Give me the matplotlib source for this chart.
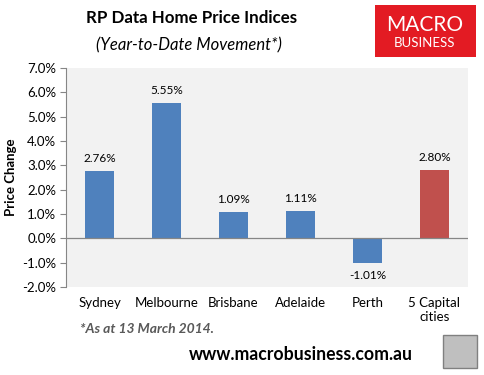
import numpy as np
import matplotlib.pyplot as plt
from matplotlib.patches import Rectangle

# data
cities = ["Sydney", "Melbourne", "Brisbane", "Adelaide", "Perth", "5 Capital\ncities"]
changes = [2.76, 5.55, 1.09, 1.11, -1.01, 2.80]
bar_colors = ["#4f81bd"] * 5 + ["#c0504d"]
yticks = np.arange(-2, 8, 1)

W, H = 485, 375
plt.rcParams['font.family'] = ['Lato', 'DejaVu Sans']
fig = plt.figure(figsize=(W / 100, H / 100), dpi=100)

# plot area in pixels: x 66..468, y 68..287
ax = fig.add_axes([66 / W, 1 - 287 / H, (468 - 66) / W, (287 - 68) / H])
ax.set_facecolor("#f2f2f2")
x = np.arange(len(cities))
ax.bar(x, changes, width=0.42, color=bar_colors, zorder=2)
ax.axhline(0, color="#868686", lw=0.9, zorder=3)
ax.set_xlim(-0.5, len(cities) - 0.5)
ax.set_ylim(-2, 7)
ax.set_yticks(yticks)
ax.set_yticklabels([f"{v:.1f}%" for v in yticks], fontsize=9.5)
ax.set_xticks(x)
ax.set_xticklabels(cities, fontsize=9.5, linespacing=1.2)
ax.tick_params(axis="x", length=0, pad=7)
ax.tick_params(axis="y", length=4, color="#868686", width=0.8, pad=3)
for s in ["top", "right", "bottom"]:
    ax.spines[s].set_visible(False)
ax.spines["left"].set_color("#868686")
ax.spines["left"].set_linewidth(0.8)
ax.set_ylabel("Price Change", fontsize=9.5, fontweight="bold")
ax.yaxis.set_label_coords(-0.122, 0.5)

for xi, v in zip(x, changes):
    off = 0.3 if v >= 0 else -0.3
    ax.text(xi, v + off, f"{v:.2f}%", ha="center", va="bottom" if v >= 0 else "top", fontsize=8.5)

# titles
fig.text(192 / W, 1 - 18 / H, "RP Data Home Price Indices", ha="center", va="center",
         fontsize=12.2, fontweight="bold")
fig.text(189 / W, 1 - 45 / H, "(Year-to-Date Movement*)", ha="center", va="center",
         fontsize=12, style="italic")

# logo
fig.patches.append(Rectangle((375 / W, 1 - 57 / H), 101 / W, 52 / H, transform=fig.transFigure,
                             facecolor="#e31b23", edgecolor="none"))
fig.text(425 / W, 1 - 25 / H, "MACRO", ha="center", va="center", color="white", fontsize=15)
fig.text(425 / W, 1 - 43 / H, "BUSINESS", ha="center", va="center", color="white", fontsize=9.5)

# footer
fig.text(80 / W, 1 - 329 / H, "*As at 13 March 2014.", ha="left", va="center",
         fontsize=10, fontweight="bold", style="italic", color="#595959")
fig.text(301 / W, 1 - 355 / H, "www.macrobusiness.com.au", ha="center", va="center",
         fontsize=12.7, fontweight="bold")
fig.patches.append(Rectangle((443 / W, 1 - 368 / H), 34 / W, 33 / H, transform=fig.transFigure,
                             facecolor="#bfbfbf", edgecolor="#808080", lw=1))

fig.savefig("out.png", dpi=100)
